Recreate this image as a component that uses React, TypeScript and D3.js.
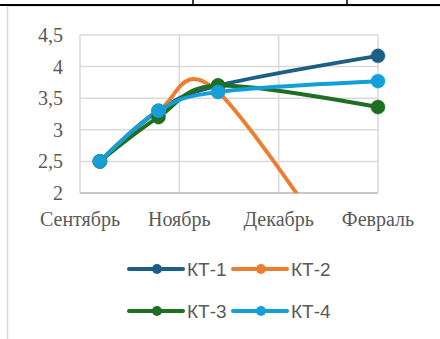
import React from "react";
import * as d3 from "d3";

const categories = ["Сентябрь", "Ноябрь", "Декабрь", "Февраль"];
const tickPositions = [0, 1, 2, 3];
const pointX = [0.2, 0.79, 1.39, 3.0];
const yTicks = [2, 2.5, 3, 3.5, 4, 4.5];
const yTickLabels = ["2", "2,5", "3", "3,5", "4", "4,5"];
const seriesNames = ["КТ-1", "КТ-2", "КТ-3", "КТ-4"];
const kt1 = [2.5, 3.3, 3.7, 4.17];
const kt2 = [2.5, 3.3, 3.6, 0.1];
const kt3 = [2.5, 3.2, 3.7, 3.36];
const kt4 = [2.5, 3.3, 3.6, 3.77];
const colors = ["#1B5E86", "#ED7D31", "#1E6E23", "#149FD9"];

const W = 440;
const H = 339;
const plot = { left: 80, right: 378, top: 35, bottom: 193 };

export default function App() {
  const x = d3.scaleLinear().domain([0, 3]).range([plot.left, plot.right]);
  const y = d3.scaleLinear().domain([2, 4.5]).range([plot.bottom, plot.top]);
  const series = [kt1, kt2, kt3, kt4];
  const line = d3
    .line<number>()
    .x((_, i) => x(pointX[i]))
    .y((d) => y(d))
    .curve(d3.curveCardinal.tension(0));

  const legendItems = [
    { lx: 129, ly: 269 },
    { lx: 233, ly: 269 },
    { lx: 129, ly: 311 },
    { lx: 233, ly: 311 },
  ];

  return (
    <svg
      width={W}
      height={H}
      style={{ position: "absolute", left: 0, top: 0, background: "#fff" }}
    >
      <defs>
        <clipPath id="plotClip">
          <rect x={plot.left - 30} y={plot.top - 30} width={plot.right - plot.left + 60} height={plot.bottom - plot.top + 30} />
        </clipPath>
      </defs>
      {/* page decorations */}
      <line x1={0} x2={W} y1={5} y2={5} stroke="#000" strokeWidth={2} />
      <line x1={193} x2={193} y1={0} y2={5} stroke="#000" strokeWidth={1.5} />
      <line x1={347} x2={347} y1={0} y2={5} stroke="#000" strokeWidth={1.5} />
      <line x1={7.5} x2={7.5} y1={6} y2={H} stroke="#d9d9d9" strokeWidth={1.5} />
      <line x1={7.5} x2={W} y1={6.5} y2={6.5} stroke="#e6e6e6" strokeWidth={1} />

      {/* grid */}
      {yTicks.map((t) => (
        <line key={"h" + t} x1={plot.left} x2={plot.right} y1={y(t)} y2={y(t)} stroke="#d9d9d9" strokeWidth={1.5} />
      ))}
      {tickPositions.map((t) => (
        <line key={"v" + t} x1={x(t)} x2={x(t)} y1={plot.top} y2={plot.bottom} stroke="#d9d9d9" strokeWidth={1.5} />
      ))}
      <line x1={plot.left} x2={plot.right} y1={plot.bottom} y2={plot.bottom} stroke="#bfbfbf" strokeWidth={1.5} />

      {/* y labels */}
      {yTicks.map((t, i) => (
        <text
          key={"yl" + t}
          x={63}
          y={y(t) + 7}
          textAnchor="end"
          fontFamily="'Liberation Serif', 'Times New Roman', serif"
          fontSize={20}
          fill="#595959"
        >
          {yTickLabels[i]}
        </text>
      ))}
      {/* x labels */}
      {tickPositions.map((t, i) => (
        <text
          key={"xl" + t}
          x={x(t)}
          y={226}
          textAnchor="middle"
          fontFamily="'Liberation Serif', 'Times New Roman', serif"
          fontSize={20}
          fill="#595959"
        >
          {categories[i]}
        </text>
      ))}

      {/* series */}
      <g clipPath="url(#plotClip)">
        {series.map((s, si) => (
          <path key={"p" + si} d={line(s) || ""} fill="none" stroke={colors[si]} strokeWidth={4} strokeLinecap="round" strokeLinejoin="round" />
        ))}
        {series.map((s, si) =>
          s.map((v, i) =>
            v >= 2 ? (
              <circle key={"c" + si + "-" + i} cx={x(pointX[i])} cy={y(v)} r={7} fill={colors[si]} stroke={colors[si]} strokeWidth={0.5} />
            ) : null
          )
        )}
      </g>

      {/* legend */}
      {legendItems.map((it, i) => (
        <g key={"lg" + i}>
          <line x1={it.lx} x2={it.lx + 54} y1={it.ly} y2={it.ly} stroke={colors[i]} strokeWidth={4} strokeLinecap="round" />
          <circle cx={it.lx + 28} cy={it.ly} r={5} fill={colors[i]} />
          <text
            x={it.lx + 58}
            y={it.ly + 7}
            fontFamily="'Liberation Sans', Arial, sans-serif"
            fontSize={19}
            fill="#595959"
          >
            {seriesNames[i]}
          </text>
        </g>
      ))}
    </svg>
  );
}
